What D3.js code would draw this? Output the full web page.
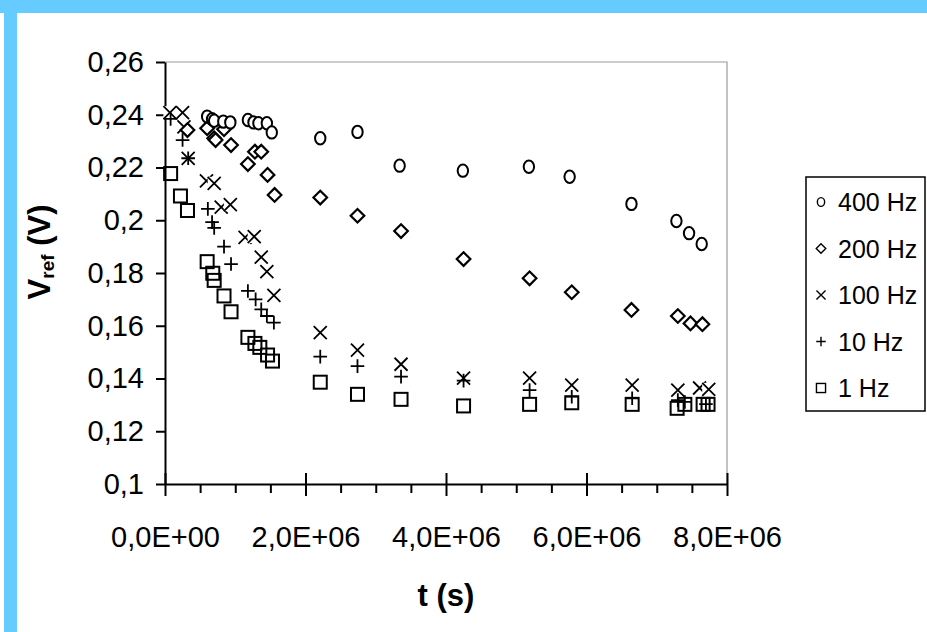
<!DOCTYPE html>
<html>
<head>
<meta charset="utf-8">
<script src="https://cdn.jsdelivr.net/npm/d3@7"></script>
<style>
  html, body { margin: 0; padding: 0; background: #fff; }
  svg { display: block; font-family: Arial, "Liberation Sans", sans-serif; }
</style>
</head>
<body>
<svg id="chart" width="927" height="632"></svg>
<script>
// Reference voltage versus elapsed time, five excitation frequencies
const xTicks = [0, 2e6, 4e6, 6e6, 8e6];
const xMinorTicks = [0.5e6, 1e6, 1.5e6, 2.5e6, 3e6, 3.5e6, 4.5e6, 5e6, 5.5e6, 6.5e6, 7e6, 7.5e6];
const yTicks = [0.1, 0.12, 0.14, 0.16, 0.18, 0.2, 0.22, 0.24, 0.26];
const seriesNames = ["400 Hz", "200 Hz", "100 Hz", "10 Hz", "1 Hz"];

const t400 = [0.60e6, 0.67e6, 0.70e6, 0.83e6, 0.93e6, 1.18e6, 1.26e6, 1.33e6, 1.45e6, 1.52e6, 2.21e6, 2.74e6, 3.34e6, 4.24e6, 5.18e6, 5.76e6, 6.64e6, 7.28e6, 7.46e6, 7.64e6];
const v400 = [0.2393, 0.2383, 0.2377, 0.2374, 0.2371, 0.2380, 0.2371, 0.2368, 0.2368, 0.2333, 0.2311, 0.2335, 0.2207, 0.2188, 0.2203, 0.2165, 0.2062, 0.1997, 0.1951, 0.1910];

const t200 = [0.32e6, 0.60e6, 0.70e6, 0.72e6, 0.84e6, 0.94e6, 1.18e6, 1.28e6, 1.37e6, 1.46e6, 1.56e6, 2.21e6, 2.74e6, 3.36e6, 4.25e6, 5.19e6, 5.79e6, 6.64e6, 7.30e6, 7.48e6, 7.65e6];
const v200 = [0.2342, 0.2349, 0.2311, 0.2304, 0.2345, 0.2285, 0.2213, 0.2260, 0.2260, 0.2172, 0.2096, 0.2086, 0.2017, 0.1959, 0.1853, 0.1780, 0.1727, 0.1660, 0.1637, 0.1609, 0.1606];

const t100 = [0.07e6, 0.25e6, 0.27e6, 0.33e6, 0.59e6, 0.70e6, 0.80e6, 0.93e6, 1.14e6, 1.27e6, 1.37e6, 1.45e6, 1.55e6, 2.21e6, 2.74e6, 3.36e6, 4.25e6, 5.19e6, 5.79e6, 6.65e6, 7.30e6, 7.61e6, 7.74e6];
const v100 = [0.2408, 0.2408, 0.2354, 0.2235, 0.2149, 0.2140, 0.2050, 0.2059, 0.1935, 0.1938, 0.1860, 0.1805, 0.1715, 0.1574, 0.1508, 0.1454, 0.1401, 0.1401, 0.1375, 0.1375, 0.1356, 0.1364, 0.1359];

const t10 = [0.08e6, 0.25e6, 0.33e6, 0.61e6, 0.67e6, 0.70e6, 0.84e6, 0.94e6, 1.18e6, 1.29e6, 1.37e6, 1.45e6, 1.55e6, 2.21e6, 2.74e6, 3.36e6, 4.25e6, 5.19e6, 5.79e6, 6.65e6, 7.30e6, 7.40e6, 7.70e6];
const v10 = [0.2384, 0.2304, 0.2235, 0.2043, 0.1993, 0.1971, 0.1900, 0.1834, 0.1732, 0.1700, 0.1662, 0.1637, 0.1612, 0.1483, 0.1447, 0.1407, 0.1392, 0.1356, 0.1331, 0.1325, 0.1318, 0.1311, 0.1303];

const t1 = [0.08e6, 0.22e6, 0.32e6, 0.60e6, 0.68e6, 0.70e6, 0.84e6, 0.94e6, 1.18e6, 1.28e6, 1.35e6, 1.46e6, 1.53e6, 2.21e6, 2.74e6, 3.36e6, 4.25e6, 5.19e6, 5.79e6, 6.65e6, 7.29e6, 7.40e6, 7.66e6, 7.73e6];
const v1 = [0.2177, 0.2092, 0.2037, 0.1843, 0.1799, 0.1772, 0.1713, 0.1653, 0.1556, 0.1533, 0.1518, 0.1489, 0.1466, 0.1386, 0.1340, 0.1321, 0.1296, 0.1302, 0.1308, 0.1302, 0.1287, 0.1302, 0.1302, 0.1302];

const svg = d3.select("#chart");
const frameBlue = "#66ccff";

// page frame: band along the top and the left edge
svg.append("rect").attr("x", 0).attr("y", 0).attr("width", 927).attr("height", 632).attr("fill", "#fff");
svg.append("rect").attr("x", 0).attr("y", 0).attr("width", 927).attr("height", 13).attr("fill", frameBlue);
svg.append("rect").attr("x", 4).attr("y", 0).attr("width", 13).attr("height", 632).attr("fill", frameBlue);

const plot = { left: 165, right: 727, top: 62, bottom: 484 };
const x = d3.scaleLinear().domain([0, 8e6]).range([plot.left, plot.right]);
const y = d3.scaleLinear().domain([0.1, 0.26]).range([plot.bottom, plot.top]);

const sciFmt = t => {
  if (t === 0) return "0,0E+00";
  const e = Math.floor(Math.log10(t));
  const m = t / Math.pow(10, e);
  return m.toFixed(1).replace(".", ",") + "E+" + String(e).padStart(2, "0");
};
const decFmt = v => String(+v.toFixed(2)).replace(".", ",");

// plot area frame (top and right edges)
svg.append("path")
  .attr("d", `M${plot.left},${plot.top}H${plot.right}V${plot.bottom}`)
  .attr("fill", "none").attr("stroke", "#9a9a9a").attr("stroke-width", 1.2);

// x axis: minor ticks below, major ticks crossing the line
const gxMinor = svg.append("g").attr("transform", `translate(0,${plot.bottom})`)
  .call(d3.axisBottom(x).tickValues(xMinorTicks).tickSize(9).tickFormat(""));
gxMinor.select(".domain").remove();
const gx = svg.append("g").attr("transform", `translate(0,${plot.bottom})`)
  .call(d3.axisBottom(x).tickValues(xTicks).tickSize(12).tickSizeOuter(0).tickFormat(sciFmt).tickPadding(30));
gx.selectAll(".tick line").attr("y1", -11);
[gx, gxMinor].forEach(g => g.selectAll("line, path").attr("stroke", "#000").attr("stroke-width", 2));
gx.selectAll("text").attr("font-size", 29).attr("fill", "#000").attr("font-family", "Arial, 'Liberation Sans', sans-serif");

// y axis
const gy = svg.append("g").attr("transform", `translate(${plot.left},0)`)
  .call(d3.axisLeft(y).tickValues(yTicks).tickSize(9).tickSizeOuter(0).tickFormat(decFmt).tickPadding(12));
gy.selectAll("line, path").attr("stroke", "#000").attr("stroke-width", 2);
gy.selectAll("text").attr("font-size", 29).attr("fill", "#000").attr("font-family", "Arial, 'Liberation Sans', sans-serif");

// axis titles
svg.append("text").attr("x", x(4e6)).attr("y", 606).attr("text-anchor", "middle")
  .attr("font-size", 31).attr("font-weight", "bold").text("t (s)");
const yTitle = svg.append("text").attr("transform", "translate(50,252) rotate(-90)")
  .attr("text-anchor", "middle").attr("font-size", 31).attr("font-weight", "bold");
yTitle.append("tspan").text("V");
yTitle.append("tspan").attr("font-size", 19).attr("dy", 4).text("ref");
yTitle.append("tspan").attr("dy", -4).text(" (V)");

// marker shapes, centred on 0,0
const shapes = {
  circle: (g, s) => g.append("ellipse").attr("rx", 5.2 * s).attr("ry", 6.2 * s).attr("fill", "#fff"),
  diamond: (g, s) => g.append("path").attr("d", `M0,${-6.8 * s}L${6.8 * s},0L0,${6.8 * s}L${-6.8 * s},0Z`).attr("fill", "#fff"),
  cross: (g, s) => {
    g.append("rect").attr("x", -6.5 * s).attr("y", -6.5 * s).attr("width", 13 * s).attr("height", 13 * s).attr("fill", "#fff").attr("stroke", "none");
    return g.append("path").attr("d", `M${-6.5 * s},${-6.5 * s}L${6.5 * s},${6.5 * s}M${6.5 * s},${-6.5 * s}L${-6.5 * s},${6.5 * s}`).attr("fill", "none");
  },
  plus: (g, s) => g.append("path").attr("d", `M${-6.8 * s},0H${6.8 * s}M0,${-6.8 * s}V${6.8 * s}`).attr("fill", "none"),
  square: (g, s) => g.append("rect").attr("x", -6.5 * s).attr("y", -6.5 * s).attr("width", 13 * s).attr("height", 13 * s).attr("fill", "none")
};

const series = [
  { name: seriesNames[0], t: t400, v: v400, shape: "circle", sw: 2 },
  { name: seriesNames[1], t: t200, v: v200, shape: "diamond", sw: 2.2 },
  { name: seriesNames[2], t: t100, v: v100, shape: "cross", sw: 1.8 },
  { name: seriesNames[3], t: t10, v: v10, shape: "plus", sw: 1.8 },
  { name: seriesNames[4], t: t1, v: v1, shape: "square", sw: 2 }
];

// draw order: squares, crosses, pluses, diamonds, circles
const drawOrder = [4, 2, 3, 1, 0];
drawOrder.forEach(i => {
  const s = series[i];
  const pts = s.t.map((t, k) => ({ t, v: s.v[k] }));
  svg.append("g").selectAll("g").data(pts).join("g")
    .attr("transform", d => `translate(${x(d.t)},${y(d.v)})`)
    .each(function () {
      shapes[s.shape](d3.select(this), 1).attr("stroke", "#000").attr("stroke-width", s.sw);
    });
});

// legend
const legend = svg.append("g");
legend.append("rect").attr("x", 806).attr("y", 177).attr("width", 119).attr("height", 234)
  .attr("fill", "#fff").attr("stroke", "#000").attr("stroke-width", 1.5);
series.forEach((s, i) => {
  const rowY = 202 + i * 46.5;
  const g = legend.append("g").attr("transform", `translate(821,${rowY})`);
  shapes[s.shape](g, 0.7).attr("stroke", "#000").attr("stroke-width", 1.4);
  legend.append("text").attr("x", 838).attr("y", rowY + 9).attr("font-size", 25).text(s.name);
});
</script>
</body>
</html>
